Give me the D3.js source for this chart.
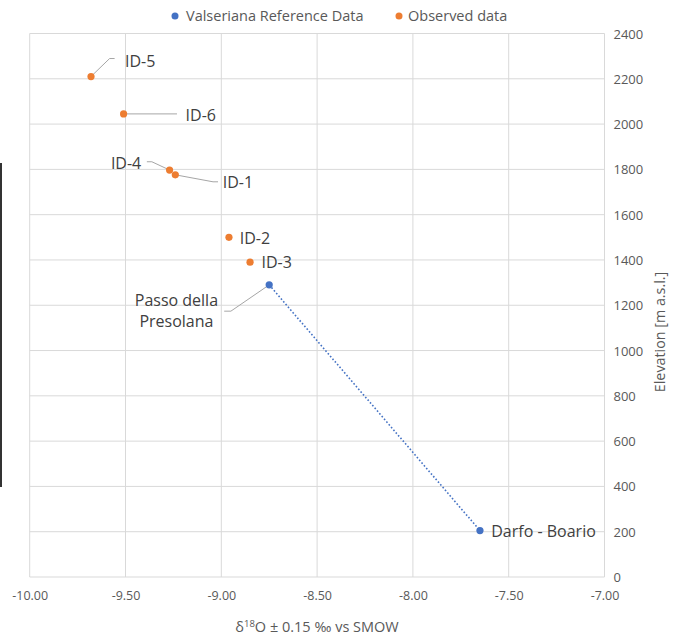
<!DOCTYPE html>
<html>
<head>
<meta charset="utf-8">
<script src="https://cdn.jsdelivr.net/npm/d3@7"></script>
<style>
  html, body { margin: 0; padding: 0; background: #fff; }
  svg { display: block; font-family: "Open Sans", sans-serif; }
</style>
</head>
<body>
<svg id="chart" width="674" height="636"></svg>
<script>
// ---- data ----
const refNames = ["Passo della Presolana", "Darfo - Boario"];
const refD18O = [-8.75, -7.65];
const refElev = [1290, 205];

const obsNames = ["ID-5", "ID-6", "ID-4", "ID-1", "ID-2", "ID-3"];
const obsD18O = [-9.68, -9.51, -9.27, -9.24, -8.96, -8.85];
const obsElev = [2210, 2045, 1797, 1776, 1500, 1390];

const xTicks = [-10, -9.5, -9, -8.5, -8, -7.5, -7];
const yTicks = [0, 200, 400, 600, 800, 1000, 1200, 1400, 1600, 1800, 2000, 2200, 2400];
const seriesNames = ["Valseriana Reference Data", "Observed data"];
const xTitle = "δ18O ± 0.15 ‰ vs SMOW";
const yTitle = "Elevation [m a.s.l.]";

// ---- layout / style (not data) ----
const colors = { ref: "#4472C4", obs: "#ED7D31", grid: "#d9d9d9", tick: "#595959", label: "#404040", leader: "#a6a6a6" };
// label placements in px, relative to each point
const obsLabelLayout = {
  "ID-5": { dx: 34, dy: -10, anchor: "start", leader: [[0,0],[18.6,-18],[23.6,-18]] },
  "ID-6": { dx: 62, dy: 7, anchor: "start", leader: [[0,0],[53.4,0]] },
  "ID-4": { dx: -28.3, dy: -1, anchor: "end", leader: [[0,0],[-17.7,-8.3],[-22.7,-8.3]] },
  "ID-1": { dx: 47.4, dy: 13, anchor: "start", leader: [[0,0],[37.7,7],[42.7,7]] },
  "ID-2": { dx: 10.7, dy: 6.3, anchor: "start", leader: null },
  "ID-3": { dx: 11.4, dy: 6, anchor: "start", leader: null }
};
const refLabelLayout = {
  "Passo della Presolana": { dx: -92.8, dy: 21, anchor: "middle", lines: ["Passo della", "Presolana"], leader: [[0,0],[-38.3,26.3],[-45,26.3]] },
  "Darfo - Boario": { dx: 11.3, dy: 6, anchor: "start", lines: ["Darfo - Boario"], leader: null }
};

const svg = d3.select("#chart");
const plot = { left: 29.7, right: 604.5, top: 33.5, bottom: 577 };

const x = d3.scaleLinear().domain([-10, -7]).range([plot.left, plot.right]);
const y = d3.scaleLinear().domain([0, 2400]).range([plot.bottom, plot.top]);

// stray black line at left edge (from source image)
svg.append("rect").attr("x", 0).attr("y", 163).attr("width", 2).attr("height", 324).attr("fill", "#333");

// gridlines
svg.append("g").selectAll("line").data(xTicks).join("line")
  .attr("x1", d => x(d)).attr("x2", d => x(d))
  .attr("y1", plot.top).attr("y2", plot.bottom)
  .attr("stroke", colors.grid).attr("stroke-width", 1);
svg.append("g").selectAll("line").data(yTicks).join("line")
  .attr("x1", plot.left).attr("x2", plot.right)
  .attr("y1", d => y(d)).attr("y2", d => y(d))
  .attr("stroke", colors.grid).attr("stroke-width", 1);

// x axis
const xAxis = d3.axisBottom(x).tickValues(xTicks).tickSize(0).tickPadding(0)
  .tickFormat(d => d.toFixed(2));
const gx = svg.append("g").attr("transform", `translate(0,${plot.bottom})`).call(xAxis);
gx.select(".domain").remove();
gx.selectAll("text").attr("dy", 0).attr("y", 23).attr("fill", colors.tick)
  .style("font-size", "12.5px").style("font-family", "'Open Sans', sans-serif");

// y axis (right)
const yAxis = d3.axisRight(y).tickValues(yTicks).tickSize(0).tickPadding(0)
  .tickFormat(d => String(d));
const gy = svg.append("g").attr("transform", `translate(${plot.right},0)`).call(yAxis);
gy.select(".domain").remove();
gy.selectAll("text").attr("x", 9).attr("dy", "0.35em").attr("fill", colors.tick)
  .style("font-size", "13px").style("font-family", "'Open Sans', sans-serif");

// axis titles
const xt = svg.append("text").attr("x", 317).attr("y", 632).attr("text-anchor", "middle")
  .attr("fill", colors.tick).style("font-size", "14.5px");
xt.append("tspan").text("δ");
xt.append("tspan").attr("dy", -5).style("font-size", "9.5px").text("18");
xt.append("tspan").attr("dy", 5).text("O ± 0.15 ‰ vs SMOW");

svg.append("text").attr("transform", "translate(665,332) rotate(-90)")
  .attr("text-anchor", "middle").attr("fill", colors.tick).style("font-size", "14.3px").text(yTitle);

// legend
const legend = svg.append("g");
const legendItems = [
  { name: seriesNames[0], color: colors.ref, cx: 175, tx: 186 },
  { name: seriesNames[1], color: colors.obs, cx: 399, tx: 408 }
];
legendItems.forEach(it => {
  legend.append("circle").attr("cx", it.cx).attr("cy", 16).attr("r", 3.5).attr("fill", it.color);
  legend.append("text").attr("x", it.tx).attr("y", 21).attr("fill", colors.tick)
    .style("font-size", "14.5px").text(it.name);
});

// reference dotted line
const refData = refNames.map((n, i) => ({ name: n, x: refD18O[i], y: refElev[i] }));
const obsData = obsNames.map((n, i) => ({ name: n, x: obsD18O[i], y: obsElev[i] }));

svg.append("path").datum(refData)
  .attr("d", d3.line().x(d => x(d.x)).y(d => y(d.y)))
  .attr("fill", "none").attr("stroke", colors.ref).attr("stroke-width", 1.6)
  .attr("stroke-dasharray", "1.6,2");

// leader lines
const leaderLine = d3.line();
obsData.forEach(d => {
  const L = obsLabelLayout[d.name];
  if (L.leader) {
    svg.append("path").attr("d", leaderLine(L.leader.map(p => [x(d.x) + p[0], y(d.y) + p[1]])))
      .attr("fill", "none").attr("stroke", colors.leader).attr("stroke-width", 1);
  }
});
refData.forEach(d => {
  const L = refLabelLayout[d.name];
  if (L.leader) {
    svg.append("path").attr("d", leaderLine(L.leader.map(p => [x(d.x) + p[0], y(d.y) + p[1]])))
      .attr("fill", "none").attr("stroke", colors.leader).attr("stroke-width", 1);
  }
});

// points
svg.append("g").selectAll("circle").data(refData).join("circle")
  .attr("cx", d => x(d.x)).attr("cy", d => y(d.y)).attr("r", 3.6).attr("fill", colors.ref);
svg.append("g").selectAll("circle").data(obsData).join("circle")
  .attr("cx", d => x(d.x)).attr("cy", d => y(d.y)).attr("r", 3.6).attr("fill", colors.obs);

// labels
obsData.forEach(d => {
  const L = obsLabelLayout[d.name];
  svg.append("text").attr("x", x(d.x) + L.dx).attr("y", y(d.y) + L.dy)
    .attr("text-anchor", L.anchor).attr("fill", colors.label).style("font-size", "16px").text(d.name);
});
refData.forEach(d => {
  const L = refLabelLayout[d.name];
  L.lines.forEach((ln, i) => {
    svg.append("text").attr("x", x(d.x) + L.dx).attr("y", y(d.y) + L.dy + i * 21)
      .attr("text-anchor", L.anchor).attr("fill", colors.label).style("font-size", "16px").text(ln);
  });
});
</script>
</body>
</html>
